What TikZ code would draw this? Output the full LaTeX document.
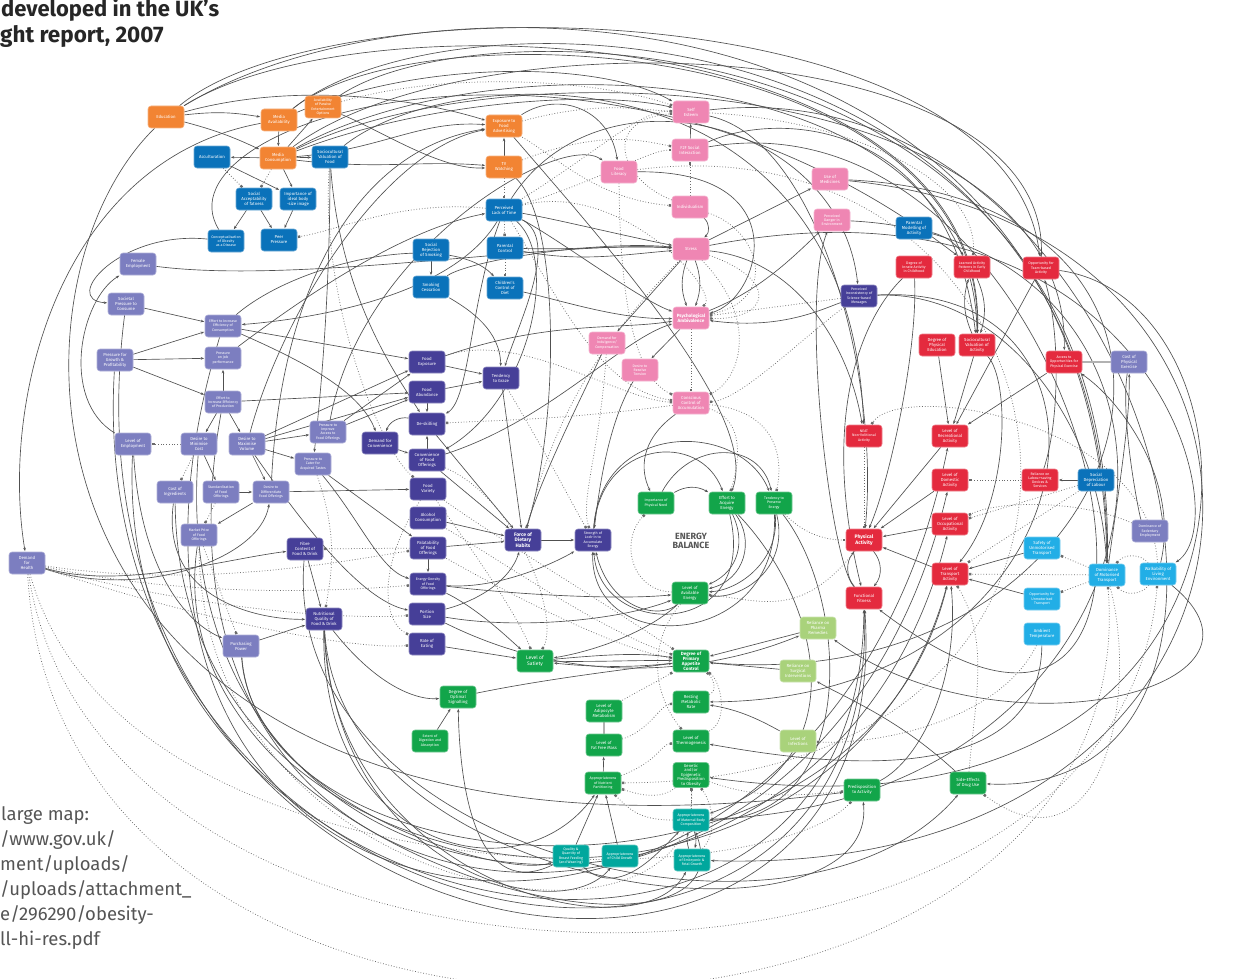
\documentclass[tikz,border=0pt]{standalone}
\usepackage{fontspec}
\setmainfont{Fira Sans}
\usetikzlibrary{arrows.meta}
\pgfdeclarelayer{bg}
\pgfsetlayers{bg,main}

\definecolor{orng}{HTML}{F28433}
\definecolor{blu}{HTML}{0A72BA}
\definecolor{pnk}{HTML}{EF86B3}
\definecolor{lpur}{HTML}{7C7EC0}
\definecolor{dpur}{HTML}{463F98}
\definecolor{rd}{HTML}{E42A3E}
\definecolor{grn}{HTML}{12A54A}
\definecolor{lgrn}{HTML}{A9D27B}
\definecolor{tel}{HTML}{00A79D}
\definecolor{lblu}{HTML}{22AEE6}
\definecolor{ln}{HTML}{505050}
\definecolor{txtgray}{HTML}{555555}

\tikzset{
  box/.style={rounded corners=3pt, text=white, align=center, font=\fontsize{4.3}{5}\selectfont,
    minimum width=36pt, minimum height=22pt, inner sep=1.2pt, line width=0.6pt},
  sm/.style={font=\fontsize{3.6}{4.2}\selectfont},
  bld/.style={font=\fontsize{5}{5.8}\selectfont\bfseries},
  orbox/.style={box, fill=orng, draw=orng!60!white},
  blbox/.style={box, fill=blu, draw=blu!60!white},
  pkbox/.style={box, fill=pnk, draw=pnk!60!white},
  lpbox/.style={box, fill=lpur, draw=lpur!60!white},
  dpbox/.style={box, fill=dpur, draw=dpur!60!white},
  rdbox/.style={box, fill=rd, draw=rd!60!white},
  grbox/.style={box, fill=grn, draw=grn!60!white},
  lgbox/.style={box, fill=lgrn, draw=lgrn!60!white},
  tlbox/.style={box, fill=tel, draw=tel!60!white},
  lbbox/.style={box, fill=lblu, draw=lblu!60!white},
  plus/.style={draw=ln, line width=0.65pt, -{Stealth[length=3.4pt,width=2.6pt]}, shorten >=0.6pt},
  minus/.style={draw=ln!85!white, line width=0.75pt, dotted, -{Square[length=2.4pt,width=2.4pt]}, shorten >=0.6pt},
  thk/.style={draw=gray!60, line width=1.5pt, -{Square[length=2.6pt,width=2.6pt]}}
}

\begin{document}
\begin{tikzpicture}[x=1pt,y=-1pt]
\useasboundingbox (0,0) rectangle (1252,979);

% title and link text
\node[anchor=base west, inner sep=0, text=black!85, font=\fontsize{22}{25}\selectfont\bfseries] (ttla) at (1,17) {developed in the UK’s};
\node[anchor=base west, inner sep=0, text=black!85, font=\fontsize{22.5}{25}\selectfont\bfseries] (ttlb) at (0,43) {ght report, 2007};
\node[anchor=base west, inner sep=0, text=txtgray, font=\fontsize{18.5}{20}\selectfont] (lnka) at (1,820) {large map:};
\node[anchor=base west, inner sep=0, text=txtgray, font=\fontsize{18.5}{20}\selectfont] (lnkb) at (0,845) {/www.gov.uk/};
\node[anchor=base west, inner sep=0, text=txtgray, font=\fontsize{18.5}{20}\selectfont] (lnkc) at (0,870) {ment/uploads/};
\node[anchor=base west, inner sep=0, text=txtgray, font=\fontsize{18.5}{20}\selectfont] (lnkd) at (0,895) {/uploads/attachment\_};
\node[anchor=base west, inner sep=0, text=txtgray, font=\fontsize{18.5}{20}\selectfont] (lnke) at (0,920) {e/296290/obesity-};
\node[anchor=base west, inner sep=0, text=txtgray, font=\fontsize{18.5}{20}\selectfont] (lnkf) at (0,945) {ll-hi-res.pdf};
\node[align=center, text=txtgray, font=\fontsize{9}{9.6}\selectfont\bfseries] (eb) at (691,541) {ENERGY\\BALANCE};

% orange
\node[orbox] (edu) at (166,117) {Education};
\node[orbox] (medav) at (279,120) {Media\\Availability};
\node[orbox, sm] (pass) at (323,107) {Availability\\of Passive\\Entertainment\\Options};
\node[orbox] (medcon) at (278,158) {Media\\Consumption};
\node[orbox] (expad) at (504,126) {Exposure to\\Food\\Advertising};
\node[orbox] (tv) at (504,167) {TV\\Watching};
% blue
\node[blbox] (accul) at (212,157) {Acculturation};
\node[blbox] (scvf) at (330,157) {Sociocultural\\Valuation of\\Food};
\node[blbox] (sacc) at (254,199) {Social\\Acceptability\\of fatness};
\node[blbox] (ideal) at (298,199) {Importance of\\ideal body\\-size image};
\node[blbox, sm] (concept) at (226,241) {Conceptualisation\\of Obesity\\as a Disease};
\node[blbox] (peer) at (279,240) {Peer\\Pressure};
\node[blbox] (lack) at (504,210) {Perceived\\Lack of Time};
\node[blbox] (parc) at (505,248) {Parental\\Control};
\node[blbox] (srej) at (431,250) {Social\\Rejection\\of Smoking};
\node[blbox] (smok) at (431,287) {Smoking\\Cessation};
\node[blbox] (chld) at (505,288) {Children’s\\Control of\\Diet};
\node[blbox] (pmod) at (914,228) {Parental\\Modelling of\\Activity};
\node[blbox] (sdep) at (1096,480) {Social\\Depreciation\\of Labour};
% pink
\node[pkbox] (self) at (691,112) {Self\\Esteem};
\node[pkbox] (f2f) at (690,150) {F2F Social\\Interaction};
\node[pkbox] (flit) at (619,172) {Food\\Literacy};
\node[pkbox] (indiv) at (690,207) {Individualism};
\node[pkbox] (stress) at (691,249) {Stress};
\node[pkbox] (med) at (830,179) {Use of\\Medicines};
\node[pkbox, sm] (dang) at (832,220) {Perceived\\Danger in\\Environment};
\node[pkbox, bld, font=\fontsize{4.6}{5.4}\selectfont\bfseries] (psy) at (691,318) {Psychological\\Ambivalence};
\node[pkbox, sm] (indul) at (607,343) {Demand for\\Indulgence/\\Compensation};
\node[pkbox, sm] (tens) at (640,370) {Desire to\\Resolve\\Tension};
\node[pkbox] (ccon) at (691,403) {Conscious\\Control of\\Accumulation};
% light purple
\node[lpbox] (femp) at (138,264) {Female\\Employment};
\node[lpbox] (spc) at (126,304) {Societal\\Pressure to\\Consume};
\node[lpbox, sm] (eec) at (223,326) {Effort to Increase\\Efficiency of\\Consumption};
\node[lpbox] (pgp) at (115,360) {Pressure for\\Growth \&\\Profitability};
\node[lpbox, sm] (pjob) at (223,358) {Pressure\\on job\\performance};
\node[lpbox, sm] (eep) at (223,402) {Effort to\\Increase Efficiency\\of Production};
\node[lpbox] (lemp) at (133,444) {Level of\\Employment};
\node[lpbox] (dmc) at (199,444) {Desire to\\Minimise\\Cost};
\node[lpbox] (dmv) at (247,444) {Desire to\\Maximise\\Volume};
\node[lpbox, sm] (pia) at (328,432) {Pressure to\\Improve\\Access to\\Food Offerings};
\node[lpbox, sm] (pcat) at (313,464) {Pressure to\\Cater for\\Acquired Tastes};
\node[lpbox] (cing) at (175,492) {Cost of\\Ingredients};
\node[lpbox, sm] (std) at (221,492) {Standardisation\\of Food\\Offerings};
\node[lpbox, sm] (ddf) at (271,492) {Desire to\\Differentiate\\Food Offerings};
\node[lpbox, sm] (mkt) at (199,535) {Market Price\\of Food\\Offerings};
\node[lpbox] (dhl) at (27,563) {Demand\\for\\Health};
\node[lpbox] (pp) at (241,646) {Purchasing\\Power};
\node[lpbox] (cpe) at (1129,362) {Cost of\\Physical\\Exercise};
\node[lpbox, sm] (dse) at (1150,531) {Dominance of\\Sedentary\\Employment};
% dark purple
\node[dpbox] (dconv) at (380,443) {Demand for\\Convenience};
\node[dpbox] (fib) at (305,549) {Fibre\\Content of\\Food \& Drink};
\node[dpbox] (nq) at (324,619) {Nutritional\\Quality of\\Food \& Drink};
\node[dpbox] (fexp) at (427,362) {Food\\Exposure};
\node[dpbox] (fab) at (427,392) {Food\\Abundance};
\node[dpbox] (desk) at (427,424) {De-skilling};
\node[dpbox] (conv) at (427,460) {Convenience\\of Food\\Offerings};
\node[dpbox] (fvar) at (428,489) {Food\\Variety};
\node[dpbox] (alc) at (428,518) {Alcohol\\Consumption};
\node[dpbox] (pal) at (428,548) {Palatability\\of Food\\Offerings};
\node[dpbox, sm] (ed) at (428,584) {Energy-Density\\of Food\\Offerings};
\node[dpbox] (port) at (427,614) {Portion\\Size};
\node[dpbox] (rate) at (427,644) {Rate of\\Eating};
\node[dpbox] (graze) at (501,378) {Tendency\\to Graze};
\node[dpbox, bld] (force) at (523,540) {Force of\\Dietary\\Habits};
\node[dpbox, sm] (lock) at (593,540) {Strength of\\Lock-in to\\Accumulate\\Energy};
\node[dpbox, sm] (pinc) at (859,296) {Perceived\\Inconsistency of\\Science-based\\Messages};
% red
\node[rdbox, sm] (innate) at (914,267) {Degree of\\Innate Activity\\in Childhood};
\node[rdbox, sm] (learn) at (972,267) {Learned Activity\\Patterns in Early\\Childhood};
\node[rdbox, sm] (team) at (1041,268) {Opportunity for\\Team-based\\Activity};
\node[rdbox] (pe) at (937,345) {Degree of\\Physical\\Education};
\node[rdbox] (scva) at (977,345) {Sociocultural\\Valuation of\\Activity};
\node[rdbox, sm] (acc) at (1064,362) {Access to\\Opportunities for\\Physical Exercise};
\node[rdbox, sm] (neat) at (864,436) {NEAT\\Non-Volitional\\Activity};
\node[rdbox] (rec) at (950,436) {Level of\\Recreational\\Activity};
\node[rdbox] (dom) at (950,480) {Level of\\Domestic\\Activity};
\node[rdbox] (occ) at (950,524) {Level of\\Occupational\\Activity};
\node[rdbox] (trn) at (950,574) {Level of\\Transport\\Activity};
\node[rdbox, bld] (pa) at (864,540) {Physical\\Activity};
\node[rdbox] (ff) at (864,598) {Functional\\Fitness};
\node[rdbox, sm] (lab) at (1040,480) {Reliance on\\Labour-saving\\Devices \&\\Services};
% green
\node[grbox, sm] (ipn) at (656,503) {Importance of\\Physical Need};
\node[grbox] (eae) at (727,503) {Effort to\\Acquire\\Energy};
\node[grbox, sm] (tpe) at (774,503) {Tendency to\\Preserve\\Energy};
\node[grbox] (lae) at (690,593) {Level of\\Available\\Energy};
\node[grbox, font=\fontsize{5}{5.8}\selectfont] (sat) at (535,661) {Level of\\Satiety};
\node[grbox, bld, font=\fontsize{4.6}{5}\selectfont\bfseries] (papc) at (691,661) {Degree of\\Primary\\Appetite\\Control};
\node[grbox] (sig) at (458,697) {Degree of\\Optimal\\Signalling};
\node[grbox, sm] (dig) at (430,741) {Extent of\\Digestion and\\Absorption};
\node[grbox] (adip) at (604,711) {Level of\\Adipocyte\\Metabolism};
\node[grbox] (ffm) at (604,745) {Level of\\Fat Free Mass};
\node[grbox] (rmr) at (691,702) {Resting\\Metabolic\\Rate};
\node[grbox] (thermo) at (691,741) {Level of\\Thermogenesis};
\node[grbox, font=\fontsize{4.2}{4.6}\selectfont] (gen) at (691,775) {Genetic\\and/or\\Epigenetic\\Predisposition\\to Obesity};
\node[grbox, sm] (npart) at (603,783) {Appropriateness\\of Nutrient\\Partitioning};
\node[grbox] (pred) at (862,790) {Predisposition\\to Activity};
\node[grbox] (side) at (968,783) {Side-Effects\\of Drug Use};
% light green
\node[lgbox] (pharma) at (818,628) {Reliance on\\Pharma\\Remedies};
\node[lgbox] (surg) at (798,671) {Reliance on\\Surgical\\Interventions};
\node[lgbox] (inf) at (798,741) {Level of\\Infections};
% teal
\node[tlbox, sm] (mat) at (691,820) {Appropriateness\\of Maternal Body\\Composition};
\node[tlbox, sm] (breast) at (571,856) {Quality \&\\Quantity of\\Breast Feeding\\(and Weaning)};
\node[tlbox, sm] (child) at (620,856) {Appropriateness\\of Child Growth};
\node[tlbox, sm] (emb) at (692,860) {Appropriateness\\of Embryonic \&\\Fetal Growth};
% light blue
\node[lbbox] (safe) at (1042,548) {Safety of\\Unmotorised\\Transport};
\node[lbbox] (mot) at (1107,575) {Dominance\\of Motorised\\Transport};
\node[lbbox] (walk) at (1158,574) {Walkability of\\Living\\Environment};
\node[lbbox, sm] (opp) at (1042,599) {Opportunity for\\Unmotorised\\Transport};
\node[lbbox] (amb) at (1042,634) {Ambient\\Temperature};

\begin{pgfonlayer}{bg}
\fill[white] (0,0) rectangle (1252,979);
% arcs over the top
\draw[plus] (edu) .. controls (330,-20) and (1010,-10) .. (team);
\draw[plus] (edu) .. controls (360,-5) and (990,20) .. (scva);
\draw[plus] (medav) .. controls (420,5) and (985,35) .. (scva);
\draw[plus] (medcon) .. controls (470,15) and (1048,30) .. (team);
\draw[plus] (medcon) .. controls (500,35) and (975,60) .. (scva);
\draw[plus] (medav) .. controls (420,60) and (600,60) .. (self);
\draw[plus] (medcon) .. controls (430,100) and (600,90) .. (self);
\draw[minus] (pass) .. controls (450,70) and (600,80) .. (self);
\draw[plus] (concept) .. controls (150,120) and (600,-20) .. (learn);
\draw[plus] (edu) .. controls (420,-40) and (1100,-30) .. (mot);
\draw[plus] (medav) .. controls (450,-20) and (1110,0) .. (mot);
\draw[plus] (pass) .. controls (480,0) and (1120,20) .. (mot);
\draw[plus] (medcon) .. controls (520,40) and (1070,80) .. (acc);
\draw[plus] (scvf) .. controls (450,60) and (850,40) .. (neat);
\draw[minus] (self) .. controls (850,120) and (980,180) .. (learn);
\draw[plus] (lack) .. controls (600,60) and (840,120) .. (pinc);
% arcs down the right side
\draw[plus] (self) .. controls (1150,60) and (1330,800) .. (side);
\draw[plus] (med) .. controls (1280,200) and (1150,700) .. (papc);
\draw[plus] (dang) .. controls (1250,240) and (1200,800) .. (mat);
\draw[plus] (pinc) .. controls (1150,280) and (1100,700) .. (rmr);
\draw[plus] (f2f) .. controls (1100,80) and (1260,900) .. (ff);
\draw[plus] (stress) .. controls (1150,160) and (1240,520) .. (walk);
\draw[plus] (pinc) .. controls (1000,290) and (1100,420) .. (mot);
\draw[plus] (med) .. controls (1360,230) and (1320,880) .. (emb);
\draw[plus] (team) .. controls (1280,300) and (1300,860) .. (gen);
\draw[minus] (flit) .. controls (1100,110) and (1200,780) .. (npart);
% arcs round the bottom
\draw[plus] (spc) .. controls (40,980) and (900,1120) .. (ff);
\draw[plus] (pgp) .. controls (80,960) and (880,1100) .. (ff);
\draw[plus] (lemp) .. controls (110,940) and (860,1080) .. (ff);
\draw[plus] (eec) .. controls (20,1000) and (820,1080) .. (rec);
\draw[plus] (eep) .. controls (120,980) and (820,1040) .. (dom);
\draw[plus] (dmc) .. controls (160,960) and (830,1010) .. (occ);
\draw[plus] (cing) .. controls (180,940) and (840,980) .. (trn);
\draw[plus] (pp) .. controls (260,900) and (860,940) .. (trn);
\draw[plus] (medav) .. controls (60,160) and (0,400) .. (dhl);
\draw[plus] (edu) .. controls (-20,300) and (10,900) .. (pred);
\draw[plus] (nq) .. controls (320,850) and (520,900) .. (npart);
\draw[plus] (nq) .. controls (330,880) and (640,960) .. (emb);
\draw[plus] (nq) .. controls (340,900) and (880,960) .. (pred);
\draw[plus] (nq) .. controls (335,870) and (560,930) .. (child);
\draw[plus] (pp) .. controls (250,800) and (500,880) .. (breast);
\draw[plus] (mkt) .. controls (150,860) and (760,1000) .. (mat);
\draw[plus] (fib) .. controls (280,850) and (800,980) .. (side);
\draw[minus] (dhl) .. controls (60,1150) and (1150,1100) .. (mot);
\draw[minus] (dhl) .. controls (100,1050) and (1120,1050) .. (walk);
\draw[minus] (dhl) .. controls (120,900) and (760,900) .. (pred);
\draw[minus] (mkt) .. controls (200,900) and (700,980) .. (gen);
% orange and blue cluster
\draw[plus] (edu) to[bend left=8] (medav);
\draw[plus] (edu) to[bend left=5] (medcon);
\draw[plus] (medav) -- (medcon);
\draw[plus] (medcon) -- (pass);
\draw[plus] (medcon) -- (accul);
\draw[plus] (medcon) -- (scvf);
\draw[plus] (medcon) -- (ideal);
\draw[minus] (medcon) -- (sacc);
\draw[minus] (accul) -- (sacc);
\draw[plus] (accul) -- (ideal);
\draw[plus] (sacc) -- (concept);
\draw[plus] (sacc) -- (peer);
\draw[plus] (ideal) -- (peer);
\draw[plus] (concept) .. controls (120,230) and (60,300) .. (spc);
\draw[minus] (lack) .. controls (400,200) and (340,230) .. (peer);
\draw[minus] (scvf) .. controls (320,300) and (380,450) .. (fvar);
\draw[plus] (scvf) .. controls (330,300) and (320,400) .. (pcat);
\draw[plus] (scvf) .. controls (340,300) and (400,380) .. (desk);
\draw[plus] (medcon) .. controls (380,150) and (420,120) .. (expad);
\draw[plus] (medcon) .. controls (380,170) and (420,160) .. (tv);
\draw[plus] (edu) .. controls (300,80) and (420,100) .. (expad);
\draw[plus] (pass) .. controls (380,130) and (440,170) .. (tv);
\draw[plus] (tv) -- (expad);
\draw[minus] (tv) -- (lack);
\draw[minus] (lack) -- (parc);
\draw[minus] (parc) -- (chld);
\draw[plus] (srej) -- (smok);
\draw[plus] (smok) .. controls (470,260) and (600,240) .. (stress);
\draw[plus] (smok) .. controls (470,310) and (500,330) .. (graze);
\draw[plus] (parc) .. controls (580,250) and (620,245) .. (stress);
\draw[plus] (parc) .. controls (580,262) and (620,255) .. (stress);
\draw[plus] (lack) .. controls (560,220) and (620,235) .. (stress);
\draw[plus] (lack) .. controls (560,240) and (640,300) .. (psy);
\draw[plus] (lack) .. controls (560,240) and (520,320) .. (graze);
\draw[plus] (lack) .. controls (560,260) and (530,400) .. (conv);
\draw[plus] (lack) .. controls (450,300) and (300,320) .. (eec);
\draw[plus] (tv) .. controls (560,220) and (560,420) .. (force);
\draw[plus] (expad) .. controls (620,260) and (760,420) .. (eae);
\draw[plus] (expad) .. controls (560,90) and (610,110) .. (flit);
% pink cluster
\draw[plus] (f2f) -- (self);
\draw[plus] (indiv) to[bend left=50] (stress);
\draw[plus] (stress) -- (med);
\draw[plus] (psy) .. controls (760,290) and (790,260) .. (dang);
\draw[plus] (stress) to[bend left=20] (psy);
\draw[plus] (stress) to[bend right=20] (psy);
\draw[plus] (stress) -- (indul);
\draw[plus] (psy) -- (tens);
\draw[plus] (flit) .. controls (800,170) and (760,300) .. (psy);
\draw[plus] (f2f) .. controls (780,110) and (950,120) .. (scva);
\draw[plus] (self) .. controls (820,140) and (880,380) .. (pa);
\draw[minus] (indiv) -- (f2f);
\draw[minus] (lack) .. controls (600,150) and (640,110) .. (self);
\draw[minus] (expad) .. controls (600,100) and (640,110) .. (self);
\draw[minus] (lack) .. controls (600,180) and (650,150) .. (f2f);
\draw[minus] (tv) .. controls (600,130) and (640,140) .. (f2f);
\draw[minus] (indiv) .. controls (620,180) and (600,120) .. (self);
\draw[minus] (expad) .. controls (560,160) and (600,200) .. (indiv);
\draw[minus] (flit) .. controls (620,320) and (640,380) .. (ccon);
\draw[minus] (lack) .. controls (560,300) and (600,390) .. (ccon);
\draw[minus] (fexp) .. controls (520,330) and (620,400) .. (ccon);
\draw[minus] (stress) .. controls (760,320) and (740,380) .. (ccon);
\draw[minus] (psy) -- (ccon);
\draw[minus] (pinc) .. controls (800,340) and (740,400) .. (ccon);
\draw[minus] (pinc) -- (psy);
\draw[minus] (stress) .. controls (780,280) and (770,320) .. (psy);
\draw[minus] (indiv) .. controls (760,230) and (780,300) .. (psy);
\draw[minus] (lack) .. controls (620,180) and (720,290) .. (psy);
\draw[plus] (fexp) .. controls (550,320) and (620,330) .. (psy);
\draw[plus] (chld) .. controls (560,300) and (620,320) .. (psy);
\draw[plus] (conv) .. controls (550,420) and (620,340) .. (psy);
\draw[plus] (indul) .. controls (580,400) and (540,480) .. (force);
\draw[plus] (tens) .. controls (610,420) and (600,480) .. (lock);
\draw[plus] (femp) .. controls (300,285) and (560,240) .. (stress);
\draw[plus] (eec) .. controls (300,260) and (450,230) .. (chld);
% light purple cluster
\draw[plus] (lemp) .. controls (60,400) and (80,300) .. (femp);
\draw[plus] (spc) -- (eec);
\draw[plus] (pgp) -- (eec);
\draw[plus] (pgp) -- (pjob);
\draw[plus] (pgp) -- (eep);
\draw[plus] (eep) -- (pjob);
\draw[plus] (pjob) .. controls (300,300) and (400,230) .. (lack);
\draw[plus] (eep) -- (dmc);
\draw[plus] (eep) -- (dmv);
\draw[minus] (dmc) -- (lemp);
\draw[minus] (dmc) -- (cing);
\draw[plus] (dmc) -- (std);
\draw[plus] (std) -- (ddf);
\draw[minus] (std) -- (mkt);
\draw[plus] (dmv) -- (ddf);
\draw[plus] (dmv) -- (pia);
\draw[plus] (dmv) -- (pcat);
\draw[plus] (dmv) -- (fexp);
\draw[plus] (dmv) -- (fab);
\draw[plus] (eep) -- (fab);
\draw[plus] (pia) -- (fexp);
\draw[plus] (pia) -- (fab);
\draw[plus] (eec) -- (fexp);
\draw[plus] (eec) .. controls (300,360) and (360,390) .. (dconv);
\draw[plus] (ddf) .. controls (280,300) and (350,150) .. (expad);
\draw[plus] (dmv) .. controls (280,320) and (380,150) .. (expad);
\draw[plus] (pia) .. controls (360,250) and (560,130) .. (flit);
\draw[plus] (ddf) -- (mkt);
\draw[plus] (lemp) .. controls (140,560) and (180,620) .. (pp);
\draw[plus] (cing) .. controls (160,600) and (260,620) .. (nq);
\draw[minus] (mkt) -- (pp);
\draw[plus] (pp) -- (nq);
\draw[plus] (fib) -- (nq);
\draw[minus] (pal) -- (fib);
\draw[minus] (pcat) .. controls (340,540) and (330,580) .. (nq);
\draw[plus] (dhl) .. controls (120,590) and (220,560) .. (fib);
\draw[plus] (dhl) .. controls (140,600) and (260,560) .. (ddf);
\draw[minus] (dhl) .. controls (200,590) and (350,560) .. (pal);
\draw[minus] (dhl) .. controls (200,600) and (350,590) .. (ed);
\draw[minus] (dhl) .. controls (200,610) and (350,620) .. (port);
\draw[minus] (dhl) .. controls (200,620) and (350,650) .. (rate);
\draw[plus] (pcat) -- (pal);
\draw[plus] (pcat) .. controls (360,520) and (380,570) .. (ed);
\draw[plus] (ddf) -- (fvar);
\draw[plus] (dmv) .. controls (300,520) and (360,600) .. (port);
\draw[plus] (cpe) .. controls (1120,420) and (1140,520) .. (dse);
% dark purple column
\draw[plus] (dconv) -- (conv);
\draw[plus] (desk) to[bend right=40] (dconv);
\draw[plus] (fab) -- (desk);
\draw[plus] (conv) -- (desk);
\draw[plus] (pal) -- (ed);
\draw[plus] (fexp) -- (graze);
\draw[plus] (fab) -- (graze);
\draw[plus] (graze) -- (force);
\draw[plus] (desk) -- (force);
\draw[plus] (conv) -- (force);
\draw[plus] (alc) -- (force);
\draw[plus] (pal) -- (force);
\draw[plus] (port) .. controls (480,600) and (510,580) .. (force);
\draw[plus] (force) -- (lock);
\draw[plus] (ed) .. controls (500,590) and (560,560) .. (lock);
\draw[plus] (ed) .. controls (520,595) and (620,600) .. (lae);
\draw[plus] (port) .. controls (520,630) and (620,620) .. (lae);
\draw[plus] (ed) .. controls (480,610) and (510,640) .. (sat);
\draw[plus] (rate) -- (sat);
\draw[plus] (lack) .. controls (470,300) and (470,400) .. (desk);
\draw[minus] (ccon) .. controls (560,420) and (500,420) .. (desk);
\draw[minus] (graze) .. controls (550,460) and (570,500) .. (lock);
\draw[minus] (indul) .. controls (600,450) and (580,500) .. (lock);
\draw[minus] (stress) .. controls (560,380) and (540,480) .. (force);
\draw[minus] (fvar) .. controls (480,560) and (520,620) .. (sat);
\draw[minus] (fvar) .. controls (500,540) and (600,600) .. (papc);
\draw[minus] (alc) .. controls (500,560) and (600,630) .. (papc);
\draw[minus] (pal) .. controls (520,600) and (620,650) .. (papc);
\draw[minus] (fvar) .. controls (380,560) and (380,620) .. (rate);
\draw[minus] (conv) .. controls (520,500) and (560,620) .. (sat);
% energy balance
\draw[plus] (ccon) .. controls (640,440) and (640,470) .. (ipn);
\draw[minus] (ccon) .. controls (745,420) and (740,460) .. (eae);
\draw[minus] (ccon) .. controls (770,410) and (785,450) .. (tpe);
\draw[plus] (ipn) to[bend left=30] (eae);
\draw[plus] (ipn) .. controls (690,440) and (760,440) .. (tpe);
\draw[plus] (eae) .. controls (745,540) and (740,570) .. (lae);
\draw[plus] (eae) .. controls (755,540) and (745,580) .. (lae);
\draw[plus] (tpe) .. controls (780,560) and (740,590) .. (lae);
\draw[plus] (tpe) .. controls (790,570) and (740,600) .. (lae);
\draw[minus] (lae) .. controls (630,590) and (620,540) .. (ipn);
\draw[plus] (lock) .. controls (600,440) and (700,430) .. (eae);
\draw[plus] (lock) .. controls (600,420) and (740,420) .. (tpe);
\draw[plus] (eae) .. controls (760,640) and (600,640) .. (lock);
\draw[plus] (tpe) .. controls (780,650) and (590,660) .. (lock);
\draw[plus] (lae) .. controls (660,620) and (610,610) .. (lock);
\draw[minus] (pa) .. controls (800,620) and (760,600) .. (lae);
\draw[minus] (tpe) .. controls (800,530) and (820,540) .. (pa);
\draw[plus] (eae) .. controls (820,600) and (860,760) .. (mat);
\draw[plus] (tpe) .. controls (850,600) and (860,820) .. (mat);
\draw[plus] (lae) .. controls (650,630) and (600,650) .. (sat);
% appetite and metabolism
\draw[plus] (sat) .. controls (600,655) and (640,652) .. (papc);
\draw[plus] (sat) .. controls (600,662) and (640,660) .. (papc);
\draw[plus] (papc) .. controls (640,667) and (600,668) .. (sat);
\draw[plus] (sig) .. controls (540,680) and (620,670) .. (papc);
\draw[plus] (dig) -- (sig);
\draw[plus] (nq) .. controls (380,690) and (420,700) .. (sig);
\draw[plus] (breast) .. controls (480,900) and (460,800) .. (sig);
\draw[thk] (ffm) -- (adip);
\draw[plus] (npart) -- (ffm);
\draw[minus] (adip) .. controls (640,690) and (660,680) .. (papc);
\draw[minus] (ffm) .. controls (650,730) and (660,705) .. (rmr);
\draw[minus] (npart) .. controls (660,760) and (660,745) .. (thermo);
\draw[minus] (lae) .. controls (650,640) and (650,690) .. (thermo);
\draw[minus] (rmr) .. controls (720,690) and (710,675) .. (papc);
\draw[minus] (thermo) .. controls (730,720) and (720,680) .. (papc);
\draw[plus] (pharma) -- (papc);
\draw[plus] (surg) -- (papc);
\draw[plus] (port) .. controls (600,700) and (740,660) .. (pharma);
\draw[plus] (walk) .. controls (1300,690) and (1000,760) .. (pharma);
\draw[plus] (side) .. controls (900,720) and (850,700) .. (surg);
\draw[plus] (inf) .. controls (760,720) and (740,710) .. (rmr);
\draw[minus] (amb) .. controls (1000,720) and (880,745) .. (inf);
\draw[plus] (amb) .. controls (1040,800) and (800,760) .. (thermo);
\draw[plus] (pred) .. controls (920,760) and (960,680) .. (trn);
\draw[minus] (gen) .. controls (760,800) and (800,795) .. (pred);
\draw[minus] (side) .. controls (975,700) and (990,640) .. (trn);
\draw[minus] (mot) .. controls (1140,700) and (1100,880) .. (side);
\draw[plus] (breast) -- (npart);
\draw[plus] (child) -- (npart);
\draw[plus] (emb) to[bend left=15] (mat);
\draw[plus] (mat) to[bend left=15] (emb);
\draw[minus] (mat) -- (gen);
\draw[minus] (emb) .. controls (720,830) and (710,800) .. (gen);
\draw[minus] (mat) .. controls (640,820) and (630,810) .. (npart);
\draw[minus] (gen) .. controls (660,800) and (640,795) .. (npart);
\draw[plus] (breast) .. controls (620,900) and (660,850) .. (mat);
% red cluster
\draw[plus] (pmod) to[bend left=20] (learn);
\draw[plus] (learn) to[bend left=20] (scva);
\draw[plus] (scva) to[bend left=20] (learn);
\draw[plus] (pe) -- (rec);
\draw[plus] (scva) -- (rec);
\draw[plus] (acc) -- (rec);
\draw[plus] (team) -- (rec);
\draw[thk] (cpe) -- (acc);
\draw[plus] (walk) .. controls (1180,480) and (1120,400) .. (acc);
\draw[plus] (mot) .. controls (1120,480) and (1130,420) .. (cpe);
\draw[plus] (rec) -- (pa);
\draw[plus] (dom) -- (pa);
\draw[plus] (occ) -- (pa);
\draw[plus] (trn) -- (pa);
\draw[plus] (pa) to[bend left=40] (ff);
\draw[plus] (ff) to[bend left=40] (pa);
\draw[minus] (neat) -- (pa);
\draw[plus] (innate) .. controls (918,350) and (890,480) .. (pa);
\draw[plus] (scva) .. controls (1010,380) and (1010,500) .. (trn);
\draw[minus] (lab) -- (dom);
\draw[plus] (sdep) -- (lab);
\draw[plus] (lab) .. controls (1060,420) and (1060,330) .. (team);
\draw[minus] (sdep) -- (occ);
\draw[minus] (sdep) -- (trn);
\draw[minus] (dse) .. controls (1080,500) and (1000,500) .. (occ);
\draw[plus] (safe) -- (trn);
\draw[plus] (opp) -- (trn);
\draw[minus] (mot) -- (trn);
\draw[minus] (mot) -- (safe);
\draw[minus] (mot) -- (opp);
\draw[minus] (walk) to[bend right=50] (mot);
\draw[minus] (walk) to[bend left=50] (mot);
\draw[minus] (walk) .. controls (1150,420) and (900,380) .. (neat);
\draw[plus] (pinc) .. controls (820,310) and (780,330) .. (psy);
\draw[plus] (stress) .. controls (800,260) and (850,350) .. (neat);
\draw[plus] (ff) .. controls (830,560) and (800,300) .. (dang);
\draw[plus] (innate) .. controls (860,320) and (820,420) .. (ff);
\end{pgfonlayer}
\end{tikzpicture}
\end{document}
